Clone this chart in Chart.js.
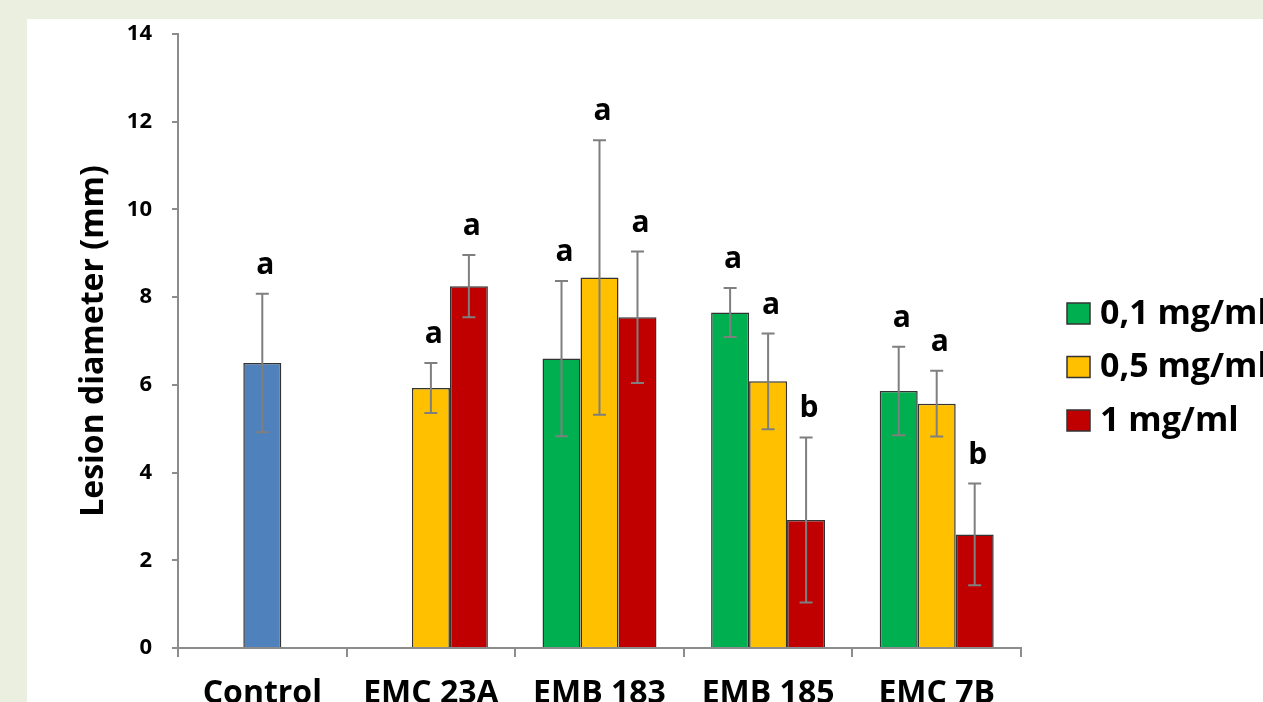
<!DOCTYPE html>
<html><head><meta charset="utf-8">
<script src="https://cdn.jsdelivr.net/npm/chart.js@4.4.1/dist/chart.umd.min.js"></script>
<style>
html,body{margin:0;padding:0;width:1263px;height:702px;overflow:hidden;background:#ebefdf;}
#panel{position:absolute;left:27px;top:19px;width:1300px;height:760px;background:#fff;}
#c{display:block}
</style></head><body>
<div id="panel"><canvas id="c" width="1300" height="760"></canvas></div>
<script>
// ---- data ----
const categories = ['Control', 'EMC 23A', 'EMB 183', 'EMB 185', 'EMC 7B'];
const yTicks = [0, 2, 4, 6, 8, 10, 12, 14];
const axisTitle = 'Lesion diameter (mm)';

const controlLabel = 'Control';
const controlValues = [6.5, null, null, null, null];
const controlErr    = [1.58, null, null, null, null];
const controlLetters = ['a', null, null, null, null];

const lowLabel = '0,1 mg/ml';
const lowValues = [null, null, 6.6, 7.65, 5.86];
const lowErr    = [null, null, 1.77, 0.56, 1.01];
const lowLetters = [null, null, 'a', 'a', 'a'];

const midLabel = '0,5 mg/ml';
const midValues = [null, 5.93, 8.45, 6.08, 5.57];
const midErr    = [null, 0.57, 3.13, 1.09, 0.75];
const midLetters = [null, 'a', 'a', 'a', 'a'];

const highLabel = '1 mg/ml';
const highValues = [null, 8.25, 7.54, 2.92, 2.59];
const highErr    = [null, 0.71, 1.5, 1.88, 1.16];
const highLetters = [null, 'a', 'a', 'b', 'b'];

// ---- styles ----
const FONT = '"Open Sans", "DejaVu Sans", sans-serif';
const AXIS_GRAY = '#8c8c8c';

const errorBarsPlugin = {
  id: 'errorBars',
  afterDatasetsDraw(chart) {
    const ctx = chart.ctx;
    const y = chart.scales.y;
    chart.data.datasets.forEach((ds, i) => {
      const meta = chart.getDatasetMeta(i);
      meta.data.forEach((el, j) => {
        const v = ds.data[j];
        if (v === null || v === undefined) return;
        const e = ds.errors[j];
        const top = y.getPixelForValue(v + e);
        const bot = y.getPixelForValue(v - e);
        const x = el.x;
        ctx.save();
        ctx.strokeStyle = '#7f7f7f';
        ctx.lineWidth = 2;
        ctx.beginPath();
        ctx.moveTo(x, top); ctx.lineTo(x, bot);
        ctx.moveTo(x - 6.5, top); ctx.lineTo(x + 6.5, top);
        ctx.moveTo(x - 6.5, bot); ctx.lineTo(x + 6.5, bot);
        ctx.stroke();
        const letter = ds.letters[j];
        if (letter) {
          ctx.fillStyle = '#000';
          ctx.font = 'bold 30px ' + FONT;
          ctx.textAlign = 'center';
          ctx.textBaseline = 'alphabetic';
          ctx.fillText(letter, x + 3, top - 20);
        }
        ctx.restore();
      });
    });
  }
};

const legendPlugin = {
  id: 'sideLegend',
  afterDraw(chart) {
    const ctx = chart.ctx;
    const items = chart.data.datasets.filter(d => d.inLegend);
    items.forEach((d, k) => {
      const cy = 294 + k * 53.5;
      ctx.save();
      ctx.fillStyle = d.backgroundColor;
      ctx.fillRect(1040, cy - 10, 23, 21);
      ctx.strokeStyle = '#333';
      ctx.lineWidth = 1.5;
      ctx.strokeRect(1040, cy - 10, 23, 21);
      ctx.fillStyle = '#000';
      ctx.font = 'bold 34px ' + FONT;
      ctx.textAlign = 'left';
      ctx.textBaseline = 'middle';
      ctx.fillText(d.label, 1073, cy + 1);
      ctx.restore();
    });
  }
};

function barSet(label, values, errs, letters, color, stack, inLegend) {
  return {
    label, data: values, errors: errs, letters, stack, inLegend,
    backgroundColor: color, borderColor: '#333333', borderWidth: 1.5,
    categoryPercentage: 0.676, barPercentage: 1.0
  };
}

new Chart(document.getElementById('c'), {
  type: 'bar',
  data: {
    labels: categories,
    datasets: [
      barSet(lowLabel, lowValues, lowErr, lowLetters, '#00b050', 'low', true),
      barSet(midLabel, midValues, midErr, midLetters, '#ffc000', 'mid', true),
      barSet(highLabel, highValues, highErr, highLetters, '#c00000', 'high', true),
      barSet(controlLabel, controlValues, controlErr, controlLetters, '#4f81bd', 'mid', false)
    ]
  },
  options: {
    responsive: false,
    animation: false,
    layout: { padding: { left: 0, top: 15, right: 306, bottom: 0 } },
    plugins: { legend: { display: false }, tooltip: { enabled: false } },
    scales: {
      x: {
        grid: { display: true, drawOnChartArea: false, drawTicks: true, tickLength: 9, color: AXIS_GRAY, lineWidth: 2, offset: true },
        border: { display: true, color: AXIS_GRAY, width: 2 },
        ticks: { color: '#000', font: { family: FONT, size: 32, weight: 'bold' }, padding: 18, maxRotation: 0 },
        afterFit(s) { s.height = 131; }
      },
      y: {
        stacked: false,
        min: 0, max: 14,
        afterBuildTicks(s) { s.ticks = yTicks.map(v => ({ value: v })); },
        grid: { display: true, drawOnChartArea: false, drawTicks: true, tickLength: 6, color: AXIS_GRAY, lineWidth: 2 },
        border: { display: true, color: AXIS_GRAY, width: 2 },
        ticks: { color: '#000', font: { family: FONT, size: 22, weight: 'bold' }, padding: 20 },
        title: { display: true, text: axisTitle, color: '#000', font: { family: FONT, size: 32, weight: 'bold' }, padding: { top: 48, bottom: 0 } },
        afterFit(s) { s.width = 151; s.paddingTop = 10; s.paddingBottom = 10; }
      }
    }
  },
  plugins: [errorBarsPlugin, legendPlugin]
});
</script>
</body></html>
